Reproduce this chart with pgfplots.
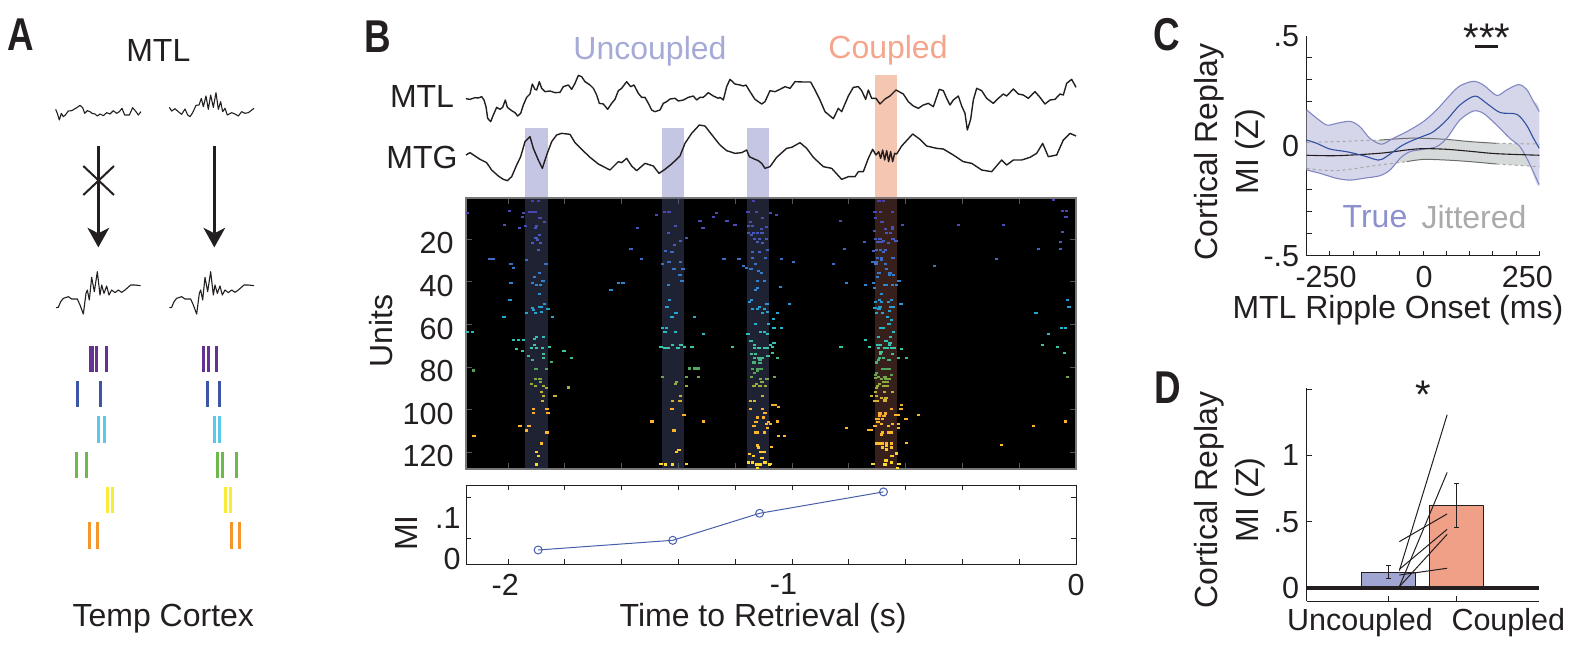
\documentclass[border=0pt]{standalone}
\usepackage{graphicx}
\usepackage{fontspec}
\setmainfont{Liberation Sans}
\usepackage{pgfplots}
\pgfplotsset{compat=1.18}
\definecolor{dk}{RGB}{35,31,32}
\definecolor{bandB}{RGB}{196,198,228}
\definecolor{bandC}{RGB}{245,198,178}
\definecolor{bandBr}{RGB}{84,90,132}
\definecolor{bandCr}{RGB}{183,107,93}
\definecolor{txtB}{RGB}{165,170,215}
\definecolor{txtC}{RGB}{245,165,140}
\definecolor{miblue}{RGB}{70,95,170}
\definecolor{trueF}{RGB}{214,214,235}
\definecolor{trueE}{RGB}{130,135,195}
\definecolor{trueM}{RGB}{50,80,160}
\definecolor{jitF}{RGB}{215,218,218}
\definecolor{barB}{RGB}{160,165,210}
\definecolor{barC}{RGB}{240,160,135}
\newcommand{\lab}{\fontsize{32}{41}\selectfont}
\newcommand{\tlab}{\fontsize{30.5}{36}\selectfont}
\newcommand{\panel}[1]{\fontsize{46}{46}\selectfont\bfseries\scalebox{.8}[1]{#1}}
\pgfdeclareplotmark{spk}{\pgfpathrectangle{\pgfpoint{-1.7pt}{-1.1pt}}{\pgfpoint{3.4pt}{2.2pt}}\pgfusepathqfill}
\pgfplotsset{base/.style={scale only axis,clip=false,tick label style={font=\tlab,text=dk},
  tick align=inside,every axis plot/.append style={line join=round}}}
\begin{document}
\begin{tikzpicture}[x=1pt,y=1pt]
\path[use as bounding box] (0,0) rectangle (1586pt,654pt);
% page-wide panel in 1/3 pixel units: panel A, signal traces
\begin{axis}[base,at={(0,0)},anchor=south west,width=1586pt,height=654pt,xmin=0,xmax=4758,ymin=0,ymax=1962,y dir=reverse,hide axis]
% bands above raster
\addplot[fill=bandB,draw=none] coordinates {(1576,384)(1644,384)(1644,594)(1576,594)};
\addplot[fill=bandB,draw=none] coordinates {(1986,384)(2052,384)(2052,594)(1986,594)};
\addplot[fill=bandB,draw=none] coordinates {(2241,384)(2308,384)(2308,594)(2241,594)};
\addplot[fill=bandC,draw=none] coordinates {(2624,225)(2691,225)(2691,594)(2624,594)};
% MTL trace
\addplot[dk,line width=1.4pt,no markers] table[row sep=crcr,x expr=\thisrowno{0}+1080,y expr=\thisrowno{1}+60]{
318 236\\330 238\\345 233\\355 234\\365 230\\372 240\\378 260\\383 295\\392 305\\400 285\\410 262\\420 268\\428 262\\436 240\\442 262\\455 272\\465 278\\473 288\\482 280\\490 255\\500 232\\510 222\\517 192\\525 208\\530 210\\538 185\\545 205\\555 215\\570 213\\585 218\\600 217\\610 200\\625 195\\635 208\\645 190\\655 166\\665 170\\675 185\\690 195\\700 205\\710 225\\718 250\\730 252\\743 268\\755 250\\765 238\\775 212\\785 205\\800 185\\812 200\\822 195\\835 220\\845 232\\855 232\\865 250\\875 270\\885 275\\900 270\\910 250\\920 245\\930 237\\945 235\\955 243\\970 240\\985 232\\1000 228\\1010 240\\1020 232\\1030 232\\1045 218\\1060 228\\1075 235\\1080 232\\};
\addplot[dk,line width=1.4pt,no markers] table[row sep=crcr,x expr=\thisrowno{0}+2160,y expr=\thisrowno{1}+60]{
0 232\\10 240\\20 200\\30 178\\45 192\\60 195\\70 198\\78 195\\90 215\\105 238\\125 252\\135 245\\150 212\\165 215\\180 208\\195 200\\210 205\\225 185\\250 186\\272 186\\285 210\\300 240\\315 275\\340 296\\355 265\\365 275\\385 228\\400 202\\415 200\\425 212\\437 238\\445 210\\455 235\\468 235\\480 252\\495 237\\510 228\\528 210\\550 222\\565 245\\580 258\\595 265\\610 255\\625 250\\640 260\\658 208\\670 212\\680 235\\690 255\\700 240\\715 228\\725 258\\735 280\\742 330\\752 298\\760 240\\770 205\\785 212\\800 235\\820 250\\835 235\\850 222\\860 228\\880 207\\895 222\\910 225\\925 235\\945 215\\960 232\\975 252\\990 240\\1005 238\\1020 222\\1030 225\\1040 190\\1055 178\\1068 202\\};
% MTG trace
\addplot[dk,line width=1.4pt,no markers] table[row sep=crcr,x expr=\thisrowno{0}+1080,y expr=\thisrowno{1}+60]{
318 405\\330 398\\345 408\\360 418\\380 428\\395 450\\415 468\\430 478\\442 482\\455 470\\470 435\\482 410\\495 365\\510 350\\520 385\\535 420\\547 445\\560 405\\575 365\\590 345\\605 340\\630 343\\645 368\\665 388\\690 412\\715 432\\750 450\\775 425\\785 428\\800 415\\815 438\\830 452\\855 430\\880 438\\897 460\\915 448\\935 432\\960 408\\975 370\\995 340\\1018 315\\1035 318\\1060 350\\1080 375\\};
\addplot[dk,line width=1.4pt,no markers] table[row sep=crcr,x expr=\thisrowno{0}+2160,y expr=\thisrowno{1}+60]{
0 375\\20 392\\45 400\\65 398\\80 390\\88 410\\105 418\\115 422\\125 430\\135 445\\150 440\\170 412\\200 385\\215 382\\240 368\\260 385\\280 412\\310 440\\335 445\\365 478\\385 470\\405 470\\415 455\\430 455\\445 415\\458 388\\468 405\\476 395\\482 415\\488 390\\494 420\\500 392\\506 425\\512 395\\518 425\\524 400\\530 402\\545 378\\578 342\\600 358\\620 378\\650 385\\670 387\\700 405\\730 425\\755 430\\785 450\\815 455\\845 420\\860 435\\880 420\\905 420\\930 412\\950 400\\968 370\\985 410\\1010 405\\1030 360\\1050 340\\1068 348\\};
% Panel A traces
\addplot[dk,line width=1.1pt,no markers] table[row sep=crcr]{
167 328\\172 340\\178 360\\184 340\\190 350\\196 345\\205 333\\215 332\\222 328\\232 322\\240 316\\248 323\\254 340\\262 332\\270 335\\276 340\\285 342\\292 348\\300 342\\310 347\\320 338\\330 342\\340 332\\350 340\\358 335\\366 325\\374 345\\388 345\\398 323\\408 335\\415 345\\423 335\\};
\addplot[dk,line width=1.1pt,no markers] table[row sep=crcr]{
508 322\\515 333\\525 326\\535 335\\545 343\\555 327\\563 345\\570 350\\578 338\\588 316\\597 315\\604 295\\610 320\\618 288\\625 328\\632 285\\640 322\\648 278\\655 328\\662 305\\668 335\\675 325\\682 345\\695 338\\705 342\\715 348\\725 335\\735 340\\745 338\\762 325\\};
\addplot[dk,line width=1.1pt,no markers] table[row sep=crcr]{
168 923\\175 922\\182 905\\190 895\\205 890\\215 897\\232 897\\240 915\\250 942\\258 880\\262 870\\268 900\\275 832\\283 875\\292 815\\300 885\\305 855\\312 880\\320 858\\327 885\\335 870\\345 878\\355 870\\365 877\\375 870\\392 855\\405 855\\422 857\\};
\addplot[dk,line width=1.1pt,no markers] table[row sep=crcr,x expr=\thisrowno{0}+340]{
168 923\\175 922\\182 905\\190 895\\205 890\\215 897\\232 897\\240 915\\250 942\\258 880\\262 870\\268 900\\275 832\\283 875\\292 815\\300 885\\305 855\\312 880\\320 858\\327 885\\335 870\\345 878\\355 870\\365 877\\375 870\\392 855\\405 855\\422 857\\};
% arrows
\addplot[dk,line width=3pt] coordinates {(295,438)(295,700)};
\addplot[dk,line width=3pt] coordinates {(643,438)(643,700)};
\addplot[fill=dk,draw=none] coordinates {(295,742)(262,683)(295,700)(328,683)};
\addplot[fill=dk,draw=none] coordinates {(643,742)(610,683)(643,700)(676,683)};
\addplot[dk,line width=2pt] coordinates {(250,498)(342,585)};
\addplot[dk,line width=2pt] coordinates {(342,498)(250,585)};
% spikes panel A
\addplot[only marks,mark=|,mark size=13pt,mark options={line width=3pt,color={rgb,255:red,100;green,50;blue,145}}] coordinates {(270,1077)(276,1077)(290,1077)(320,1077)(611,1077)(626,1077)(650,1077)};
\addplot[only marks,mark=|,mark size=13pt,mark options={line width=3pt,color={rgb,255:red,60;green,85;blue,165}}] coordinates {(233,1182)(302,1182)(623,1182)(659,1182)};
\addplot[only marks,mark=|,mark size=13.5pt,mark options={line width=3pt,color={rgb,255:red,90;green,200;blue,230}}] coordinates {(296,1288)(314,1288)(644,1288)(659,1288)};
\addplot[only marks,mark=|,mark size=13pt,mark options={line width=3pt,color={rgb,255:red,110;green,185;blue,75}}] coordinates {(230,1395)(260,1395)(653,1395)(668,1395)(710,1395)};
\addplot[only marks,mark=|,mark size=13pt,mark options={line width=3pt,color={rgb,255:red,250;green,235;blue,55}}] coordinates {(323,1500)(338,1500)(677,1500)(692,1500)};
\addplot[only marks,mark=|,mark size=13.5pt,mark options={line width=3pt,color={rgb,255:red,245;green,150;blue,45}}] coordinates {(269,1606)(293,1606)(695,1606)(719,1606)};
% text
\node[font=\lab,text=dk] at (axis cs:475,150) {MTL};
\node[font=\lab,text=dk] at (axis cs:490,1855) {Temp Cortex};
\node[text=dk] at (axis cs:62,105) {\panel{A}};
\node[text=dk] at (axis cs:1134,111) {\panel{B}};
\node[text=dk] at (axis cs:3501,105) {\panel{C}};
\node[text=dk] at (axis cs:3504,1164) {\panel{D}};
\node[font=\lab,text=txtB] at (axis cs:1950,153) {Uncoupled};
\node[font=\lab,text=txtC] at (axis cs:2664,150) {Coupled};
\node[font=\lab,text=dk] at (axis cs:1266,288) {MTL};
\node[font=\lab,text=dk] at (axis cs:1266,471) {MTG};
\node[font=\lab,text={rgb,255:red,140;green,145;blue,205}] at (axis cs:4125,651) {True};
\node[font=\lab,text={rgb,255:red,170;green,170;blue,170}] at (axis cs:4422,651) {Jittered};
\node[font=\fontsize{40}{40}\selectfont,text=dk,anchor=base] at (axis cs:4461,153) {***};
\node[font=\fontsize{40}{40}\selectfont,text=dk,anchor=base] at (axis cs:4269,1224) {*};
\end{axis}
% Raster
\begin{axis}[base,at={(466pt,185pt)},anchor=south west,width=610pt,height=271pt,
 xmin=-2.148,xmax=0,ymin=0.6,ymax=127.8,y dir=reverse,
 axis background/.style={fill=black},clip=true,
 xtick={-2,-1.8,-1.6,-1.4,-1.2,-1,-.8,-.6,-.4,-.2,0},xticklabels={},
 ytick={20,40,60,80,100,120},yticklabels={20,40,60,80,100,120},
 major tick length=6pt,tick style={color={rgb,255:red,85;green,85;blue,85},line width=1pt},
 axis line style={color={rgb,255:red,120;green,120;blue,120},line width=1.5pt},
 yticklabel style={xshift=-9pt,yshift=-4pt},
 ylabel={Units},every axis y label/.style={at={(axis description cs:-0.139,0.509)},rotate=90,anchor=center,font=\lab,text=dk},
 point meta min=0,point meta max=128,
 colormap={rast}{rgb255(0pt)=(75,60,170); rgb255(20pt)=(70,90,190); rgb255(45pt)=(45,140,210); rgb255(60pt)=(30,180,205); rgb255(72pt)=(60,200,165); rgb255(82pt)=(85,160,85); rgb255(92pt)=(190,180,50); rgb255(100pt)=(250,175,45); rgb255(115pt)=(255,185,45); rgb255(128pt)=(255,225,40)}]
\addplot[scatter,only marks,mark=spk,scatter src=y] table[row sep=crcr,x expr=(460+\thisrowno{0}/3-1076)/284,y expr=-0.8+\thisrowno{1}*0.1565]{
22 54\\148 47\\190 54\\188 65\\133 91\\178 98\\197 94\\210 50\\220 50\\218 18\\235 18\\215 50\\225 50\\240 69\\253 80\\230 94\\226 100\\238 120\\228 130\\233 135\\218 143\\241 143\\235 165\\199 195\\258 207\\238 234\\223 245\\217 265\\229 271\\241 271\\249 259\\238 297\\253 328\\218 338\\240 337\\245 337\\220 345\\244 350\\199 355\\227 355\\264 342\\277 366\\132 366\\150 315\\153 207\\160 220\\153 264\\90 193\\100 193\\
22 411\\37 411\\160 436\\176 436\\190 436\\230 426\\250 426\\224 432\\169 462\\187 468\\224 451\\215 458\\229 458\\247 458\\268 456\\205 483\\251 477\\251 489\\217 495\\274 500\\312 468\\334 488\\40 526\\228 521\\260 521\\227 552\\240 552\\241 560\\214 567\\226 573\\250 573\\260 578\\325 577\\244 591\\251 603\\285 603\\247 617\\220 642\\261 642\\220 654\\264 654\\207 693\\180 693\\199 706\\261 712\\42 723\\244 745\\230 770\\235 782\\229 808\\
513 163\\533 99\\544 193\\475 264\\489 264\\453 285\\590 59\\613 50\\627 50\\646 94\\625 114\\644 151\\661 138\\679 130\\617 168\\636 171\\627 201\\607 207\\661 201\\642 222\\669 222\\660 240\\666 259\\625 271\\628 316\\621 337\\648 355\\636 367\\703 366\\608 400\\619 400\\615 412\\646 412\\730 417\\603 456\\615 458\\625 458\\637 451\\654 458\\663 451\\674 456\\696 456\\818 456\\689 520\\703 520\\714 520\\608 546\\649 560\\646 567\\680 545\\715 545\\680 572\\661 603\\638 617\\660 617\\636 642\\672 660\\576 679\\730 679\\642 706\\657 764\\649 770\\603 807\\616 808\\638 808\\680 807\\720 78\\769 54\\761 66\\801 78\\825 91\\729 99\\792 193\\837 193\\851 214\\
881 18\\864 50\\889 50\\907 69\\872 81\\866 94\\877 94\\920 95\\904 102\\866 114\\880 115\\875 120\\893 114\\906 114\\884 131\\898 131\\920 131\\893 140\\907 143\\922 165\\877 171\\899 171\\877 188\\916 188\\886 207\\860 220\\873 222\\895 228\\904 234\\893 259\\914 259\\892 279\\886 285\\875 316\\868 322\\921 328\\878 343\\893 343\\898 337\\913 343\\907 355\\922 350\\886 388\\925 388\\864 418\\901 412\\914 412\\922 418\\873 437\\884 451\\884 458\\897 458\\915 458\\922 458\\874 477\\886 477\\884 489\\897 489\\907 489\\882 502\\900 495\\900 503\\924 483\\878 521\\893 521\\903 521\\893 527\\884 533\\874 546\\902 552\\921 552\\906 560\\889 567\\882 572\\900 572\\916 572\\872 617\\884 617\\907 603\\871 642\\907 642\\915 654\\892 667\\910 667\\888 680\\925 680\\920 686\\882 692\\923 699\\886 712\\893 712\\914 712\\893 751\\896 757\\903 770\\914 770\\868 776\\880 782\\906 789\\865 802\\878 802\\889 808\\900 808\\915 802\\893 819\\928 808\\};
\addplot[scatter,only marks,mark=spk,scatter src=y] table[row sep=crcr,x expr=(770+\thisrowno{0}/3-1076)/284,y expr=-0.8+\thisrowno{1}*0.1565]{
2 54\\19 59\\211 78\\223 163\\283 142\\34 193\\70 200\\190 207\\229 264\\286 271\\32 277\\58 328\\22 354\\10 372\\12 399\\34 399\\12 443\\7 456\\2 450\\286 436\\213 456\\298 456\\394 462\\8 475\\22 488\\386 488\\410 488\\13 545\\8 629\\16 629\\26 636\\394 629\\393 642\\445 660\\408 672\\22 679\\2 687\\229 699\\296 705\\305 705\\386 687\\385 699\\26 723\\44 723\\410 744\\5 756\\2 807\\387 807\\309 807\\304 603\\397 91\\565 91\\700 91\\850 15\\878 48\\889 48\\888 66\\877 111\\871 142\\805 163\\871 163\\679 193\\493 214\\892 315\\897 336\\798 354\\835 417\\874 399\\886 399\\817 450\\862 456\\883 475\\892 545\\790 693\\886 679\\694 750\\393 328\\387 258\\311 169\\309 200\\310 264\\
327 18\\340 18\\315 50\\331 50\\368 50\\316 69\\336 81\\314 108\\346 102\\368 95\\368 102\\350 114\\361 114\\317 132\\330 132\\323 140\\333 140\\340 138\\355 144\\369 132\\378 138\\320 165\\332 165\\346 165\\340 171\\323 188\\335 188\\335 195\\369 188\\320 200\\318 206\\347 207\\349 222\\327 234\\360 234\\358 240\\370 240\\322 245\\345 271\\350 271\\367 271\\379 271\\314 279\\334 297\\316 320\\329 316\\335 322\\365 316\\356 322\\370 337\\363 337\\315 339\\330 337\\327 343\\320 355\\338 355\\359 349\\352 367\\365 374\\357 388\\331 400\\340 400\\370 412\\325 426\\361 426\\348 437\\322 450\\330 450\\325 458\\360 445\\358 451\\345 458\\352 458\\364 458\\372 458\\333 472\\331 477\\367 477\\340 489\\357 495\\328 489\\325 495\\319 502\\338 521\\348 521\\358 521\\320 533\\316 540\\316 549\\326 546\\365 540\\345 546\\335 552\\348 552\\358 552\\342 560\\352 560\\328 567\\342 572\\352 572\\322 572\\320 578\\316 591\\344 591\\368 591\\319 603\\335 608\\348 608\\345 615\\315 617\\322 617\\364 642\\345 617\\378 660\\384 660\\330 655\\346 655\\328 663\\342 663\\326 672\\338 672\\322 680\\320 672\\326 680\\315 692\\335 687\\355 692\\367 687\\338 712\\335 718\\355 712\\365 712\\320 745\\327 745\\338 745\\349 745\\349 751\\365 745\\338 757\\349 763\\365 757\\380 775\\366 782\\348 796\\345 808\\365 802\\383 818\\};
\addplot[fill=bandBr,draw=none,fill opacity=.38] coordinates {(-1.939,.6)(-1.859,.6)(-1.859,127.8)(-1.939,127.8)};
\addplot[fill=bandBr,draw=none,fill opacity=.38] coordinates {(-1.458,.6)(-1.380,.6)(-1.380,127.8)(-1.458,127.8)};
\addplot[fill=bandBr,draw=none,fill opacity=.38] coordinates {(-1.158,.6)(-1.080,.6)(-1.080,127.8)(-1.158,127.8)};
\addplot[fill=bandCr,draw=none,fill opacity=.3] coordinates {(-.709,.6)(-.630,.6)(-.630,127.8)(-.709,127.8)};
\end{axis}
% MI strip
\begin{axis}[base,at={(466pt,89.7pt)},anchor=south west,width=610pt,height=79pt,
 xmin=-2.148,xmax=0,ymin=-0.012,ymax=0.18,
 major tick length=0pt,minor tick length=5pt,axis line style={color=dk,line width=1pt},tick style={color=dk,line width=1pt},
 xtick={-2.01,-1.03,0},xticklabels={-2,-1,0},minor xtick={-2,-1.8,-1.6,-1.4,-1.2,-1,-.8,-.6,-.4,-.2},
 ytick={0,.1},yticklabels={0,.1},minor ytick={.05,.15},
 xlabel={Time to Retrieval (s)},every axis x label/.style={at={(axis description cs:.487,-.68)},anchor=center,font=\lab,text=dk},
 ylabel={MI},every axis y label/.style={at={(axis description cs:-.098,.396)},rotate=90,anchor=center,font=\lab,text=dk},
 yticklabel style={xshift=-2pt},xticklabel style={yshift=-6pt}]
\addplot[miblue,line width=1pt,mark=o,mark size=4pt] coordinates {(-1.894,.0228)(-1.42,.0463)(-1.114,.112)(-.678,.164)};
\end{axis}
% Panel C
\begin{axis}[base,at={(1306.7pt,398pt)},anchor=south west,width=232.6pt,height=220pt,clip=true,
 xmin=-300,xmax=300,ymin=-.5,ymax=.5,axis x line*=bottom,axis y line*=left,axis line style={-,color=dk,line width=1pt},
 major tick length=0pt,minor tick length=5pt,tick style={color=dk,line width=1pt},
 xtick={-250,3,269},xticklabels={-250,0,250},minor xtick={-240,-180,-120,-60,0,60,120,180,240,300},
 ytick={-.5,0,.5},yticklabels={-.5,0,.5},minor ytick={-.4,-.3,-.2,-.1,.1,.2,.3,.4},
 xlabel={MTL Ripple Onset (ms)},every axis x label/.style={at={(axis description cs:.392,-.245)},anchor=center,font=\lab,text=dk},
 ylabel={Cortical Replay\\MI (Z)},every axis y label/.style={at={(axis description cs:-.33,.473)},rotate=90,anchor=center,align=center,font=\lab,text=dk},
 yticklabel style={xshift=-4pt},xticklabel style={yshift=-7pt}]
\addplot[fill=jitF,draw=none] coordinates {(-300,.015)(-223,.020)(-111,.027)(-42,.035)(1,.035)(61,.030)(121,.020)(190,.012)(300,.009)(300,-.094)(190,-.082)(121,-.071)(61,-.064)(1,-.061)(-42,-.071)(-111,-.086)(-223,-.112)(-300,-.102)};
\addplot[fill=trueF,draw=none,smooth,tension=.5] coordinates {(-300,.164)(-274,.126)(-248,.095)(-223,.103)(-188,.112)(-163,.088)(-137,.035)(-107,.008)(-77,.035)(-42,.065)(1,.111)(35,.164)(70,.232)(95,.273)(130,.294)(156,.277)(190,.230)(216,.255)(246,.279)(267,.258)(285,.202)(300,.156)(300,-.177)(272,-.071)(250,-.003)(224,.035)(190,.095)(156,.148)(130,.159)(95,.118)(61,.035)(35,-.003)(1,-.015)(-34,-.026)(-59,-.056)(-85,-.109)(-111,-.135)(-154,-.147)(-188,-.155)(-223,-.147)(-266,-.124)(-300,-.109)};
\addplot[jitF!50!black,line width=1pt,smooth,tension=.5] coordinates {(-111,.027)(-42,.035)(1,.035)(61,.030)(121,.020)(190,.012)};
\addplot[jitF!50!black,line width=1pt,smooth,tension=.5] coordinates {(-42,-.071)(1,-.061)(61,-.064)(121,-.071)(190,-.082)};
\addplot[gray!70,line width=1pt,dashed,smooth,tension=.5] coordinates {(-300,.015)(-223,.020)(-111,.027)};
\addplot[gray!70,line width=1pt,dashed,smooth,tension=.5] coordinates {(190,.012)(300,.009)};
\addplot[gray!70,line width=1pt,dashed,smooth,tension=.5] coordinates {(-300,-.102)(-223,-.112)(-111,-.086)(-42,-.071)};
\addplot[gray!70,line width=1pt,dashed,smooth,tension=.5] coordinates {(190,-.082)(300,-.094)};
\addplot[trueE,line width=1.1pt,smooth,tension=.5] coordinates {(-300,.164)(-274,.126)(-248,.095)(-223,.103)(-188,.112)(-163,.088)(-137,.035)(-107,.008)(-77,.035)(-42,.065)(1,.111)(35,.164)(70,.232)(95,.273)(130,.294)(156,.277)(190,.230)(216,.255)(246,.279)(267,.258)(285,.202)(300,.156)};
\addplot[trueE,line width=1.1pt,smooth,tension=.5] coordinates {(-300,-.109)(-266,-.124)(-223,-.147)(-188,-.155)(-154,-.147)(-111,-.135)(-85,-.109)(-59,-.056)(-34,-.026)(1,-.015)(35,-.003)(61,.035)(95,.118)(130,.159)(156,.148)(190,.095)(224,.035)(250,-.003)(272,-.071)(300,-.177)};
\addplot[dk,line width=1.1pt,smooth,tension=.5] coordinates {(-300,-.042)(-223,-.044)(-111,-.033)(-42,-.018)(1,-.012)(61,-.015)(121,-.024)(190,-.035)(300,-.042)};
\addplot[trueM,line width=1.1pt,smooth,tension=.5] coordinates {(-300,.027)(-274,.012)(-240,-.014)(-197,-.026)(-154,-.044)(-115,-.064)(-94,-.048)(-59,-.003)(-34,.020)(1,.045)(27,.065)(61,.118)(95,.186)(134,.227)(164,.194)(199,.152)(242,.144)(267,.095)(285,.035)(300,-.011)};
\addplot[dk,line width=3pt] coordinates {(135,.452)(194,.452)};
\end{axis}
% Panel D
\begin{axis}[base,at={(1306.7pt,53pt)},anchor=south west,width=232.6pt,height=213pt,
 xmin=-.206,xmax=3.216,ymin=-.098,ymax=1.509,axis x line*=bottom,axis y line*=left,axis line style={-,color=dk,line width=1pt},
 major tick length=0pt,minor tick length=5pt,tick style={color=dk,line width=1pt},
 xtick={.578,2.76},xticklabels={Uncoupled,Coupled},minor xtick={1,2},
 ytick={0,.5,1},yticklabels={0,.5,1},minor ytick={0,.5,1,1.5},
 ylabel={Cortical Replay\\MI (Z)},every axis y label/.style={at={(axis description cs:-.33,.474)},rotate=90,anchor=center,align=center,font=\lab,text=dk},
 yticklabel style={xshift=-4pt},xticklabel style={yshift=-4pt}]
\addplot[ybar,bar width=.8,bar shift=0pt,fill=barB,draw=dk,line width=1pt,error bars/.cd,y dir=both,y explicit,error bar style={line width=1pt,color=dk},error mark options={rotate=90,mark size=2.5pt,line width=1pt,color=dk}] coordinates {(1,.118) += (0,.051) -= (0,.045)};
\addplot[ybar,bar width=.8,bar shift=0pt,fill=barC,draw=dk,line width=1pt,error bars/.cd,y dir=both,y explicit,error bar style={line width=1pt,color=dk},error mark options={rotate=90,mark size=2.5pt,line width=1pt,color=dk}] coordinates {(2,.622) += (0,.169) -= (0,.164)};
\addplot[dk,line width=3.3pt] coordinates {(-.206,0)(3.216,0)};
\addplot[dk,line width=1pt] coordinates {(1.157,.131)(1.86,1.307)};
\addplot[dk,line width=1pt] coordinates {(1.157,.01)(1.86,.872)};
\addplot[dk,line width=1pt] coordinates {(1.157,.35)(1.86,.559)};
\addplot[dk,line width=1pt] coordinates {(1.157,.141)(1.86,.443)};
\addplot[dk,line width=1pt] coordinates {(1.157,.01)(1.86,.405)};
\addplot[dk,line width=1pt] coordinates {(1.157,.098)(1.86,.149)};
\end{axis}
\end{tikzpicture}
\end{document}
